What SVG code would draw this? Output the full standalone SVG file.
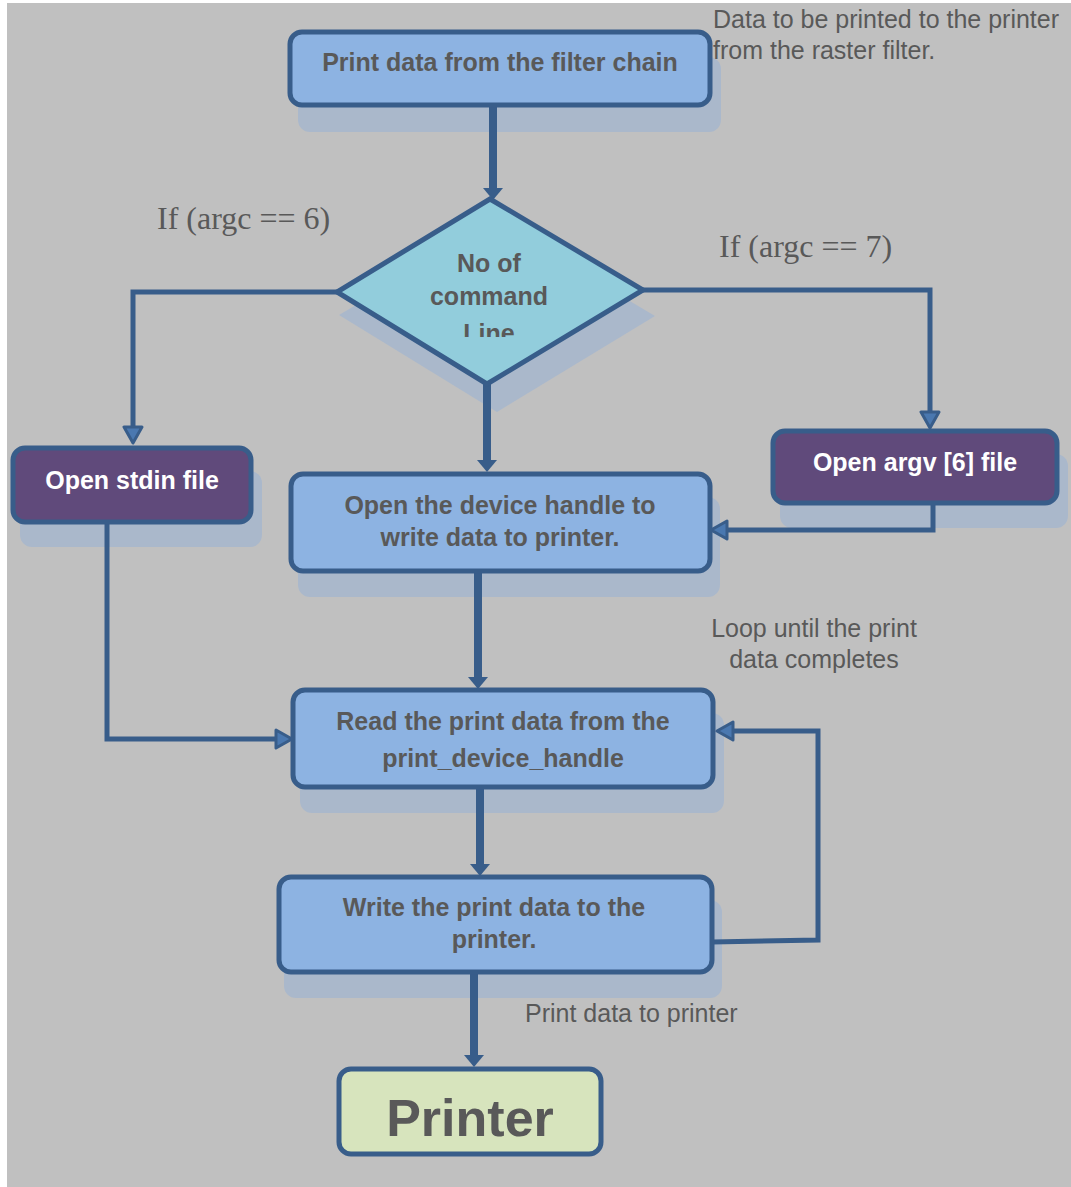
<svg xmlns="http://www.w3.org/2000/svg" width="1071" height="1187" viewBox="0 0 1071 1187">
  <style>
    .box { fill: #8db3e2; stroke: #385d8a; stroke-width: 5; }
    .term { fill: #604a7b; stroke: #385d8a; stroke-width: 5; }
    .shadow { fill: #aab8cb; }
    .t { font-family: "Liberation Sans", Arial, sans-serif; font-weight: bold; font-size: 25px; fill: #595959; text-anchor: middle; }
    .tw { font-family: "Liberation Sans", Arial, sans-serif; font-weight: bold; font-size: 25px; fill: #ffffff; text-anchor: middle; }
    .note { font-family: "Liberation Sans", Arial, sans-serif; font-size: 25px; fill: #595959; }
    .cond { font-family: "Liberation Serif", "Times New Roman", serif; font-size: 32px; fill: #595959; }
    .thick { fill: none; stroke: #385d8a; stroke-width: 8; }
    .thin { fill: none; stroke: #385d8a; stroke-width: 5; }
  </style>
  <defs>
    <marker id="headFilled" markerUnits="userSpaceOnUse" viewBox="0 0 12 20" refX="0" refY="10" markerWidth="12" markerHeight="20" orient="auto">
      <path d="M0,0 L12,10 L0,20 Z" fill="#385d8a"/>
    </marker>
    <marker id="headOpen" markerUnits="userSpaceOnUse" viewBox="-2 -2 20 22" refX="0" refY="9" markerWidth="20" markerHeight="22" orient="auto">
      <path d="M0,0 L16,9 L0,18 Z" fill="#4a78b0" stroke="#385d8a" stroke-width="3" stroke-linejoin="round"/>
    </marker>
    <clipPath id="diamondText">
      <rect x="400" y="240" width="180" height="97"/>
    </clipPath>
  </defs>

  <!-- page -->
  <rect x="7" y="3" width="1064" height="1184" fill="#c0c0c0"/>

  <!-- drop shadows -->
  <g id="shadows">
    <rect class="shadow" x="298" y="57" width="423" height="75" rx="12"/>
    <polygon class="shadow" points="339,315 497,222 655,316 497,412"/>
    <rect class="shadow" x="20" y="471" width="242" height="76" rx="12"/>
    <rect class="shadow" x="780" y="454" width="288" height="74" rx="12"/>
    <rect class="shadow" x="298" y="497" width="422" height="100" rx="12"/>
    <rect class="shadow" x="300" y="713" width="424" height="100" rx="12"/>
    <rect class="shadow" x="284" y="900" width="438" height="98" rx="12"/>
  </g>

  <!-- connectors -->
  <g id="connectors">
    <path class="thick" d="M493,107 V188" marker-end="url(#headFilled)"/>
    <path class="thick" d="M487,380 V460" marker-end="url(#headFilled)"/>
    <path class="thick" d="M478,571 V677" marker-end="url(#headFilled)"/>
    <path class="thick" d="M480,787 V864" marker-end="url(#headFilled)"/>
    <path class="thick" d="M474,972 V1055" marker-end="url(#headFilled)"/>
    <path class="thin" d="M338,292 H133 V427" marker-end="url(#headOpen)"/>
    <path class="thin" d="M640,290 H930 V412" marker-end="url(#headOpen)"/>
    <path class="thin" d="M933,504 V530 H727" marker-end="url(#headOpen)"/>
    <path class="thin" d="M107,523 V739 H276" marker-end="url(#headOpen)"/>
    <path class="thin" d="M712,942 L818,940 V731 H733" marker-end="url(#headOpen)"/>
  </g>

  <!-- nodes -->
  <g id="node-source">
    <rect class="box" x="290" y="32" width="420" height="73" rx="12"/>
    <text class="t" x="500" y="71">Print data from the filter chain</text>
  </g>

  <g id="node-decision">
    <polygon points="490,199 643,290 487,384 337,292" fill="#92cddc" stroke="#385d8a" stroke-width="5" stroke-linejoin="miter"/>
    <g clip-path="url(#diamondText)">
      <text class="t" x="489" y="272">No of</text>
      <text class="t" x="489" y="305">command</text>
      <text class="t" x="489" y="342">Line</text>
    </g>
  </g>

  <g id="node-stdin">
    <rect class="term" x="13" y="448" width="238" height="74" rx="12"/>
    <text class="tw" x="132" y="489">Open stdin file</text>
  </g>

  <g id="node-argv">
    <rect class="term" x="773" y="431" width="284" height="72" rx="12"/>
    <text class="tw" x="915" y="471">Open argv [6] file</text>
  </g>

  <g id="node-open-device">
    <rect class="box" x="291" y="474" width="419" height="97" rx="12"/>
    <text class="t" x="500" y="514">Open the device handle to</text>
    <text class="t" x="500" y="546">write data to printer.</text>
  </g>

  <g id="node-read">
    <rect class="box" x="293" y="690" width="420" height="97" rx="12"/>
    <text class="t" x="503" y="730">Read the print data from the</text>
    <text class="t" x="503" y="767">print_device_handle</text>
  </g>

  <g id="node-write">
    <rect class="box" x="279" y="877" width="433" height="95" rx="12"/>
    <text class="t" x="494" y="916">Write the print data to the</text>
    <text class="t" x="494" y="948">printer.</text>
  </g>

  <g id="node-printer">
    <rect x="339" y="1069" width="262" height="85" rx="12" fill="#d7e4bd" stroke="#385d8a" stroke-width="5"/>
    <text class="t" x="470" y="1136" style="font-size:52px">Printer</text>
  </g>

  <!-- annotations -->
  <g id="labels">
    <text class="note" x="713" y="28">Data to be printed to the printer</text>
    <text class="note" x="713" y="59">from the raster filter.</text>
    <text class="cond" x="157" y="229">If (argc == 6)</text>
    <text class="cond" x="719" y="257">If (argc == 7)</text>
    <text class="note" x="814" y="637" text-anchor="middle">Loop until the print</text>
    <text class="note" x="814" y="668" text-anchor="middle">data completes</text>
    <text class="note" x="525" y="1022">Print data to printer</text>
  </g>
</svg>
